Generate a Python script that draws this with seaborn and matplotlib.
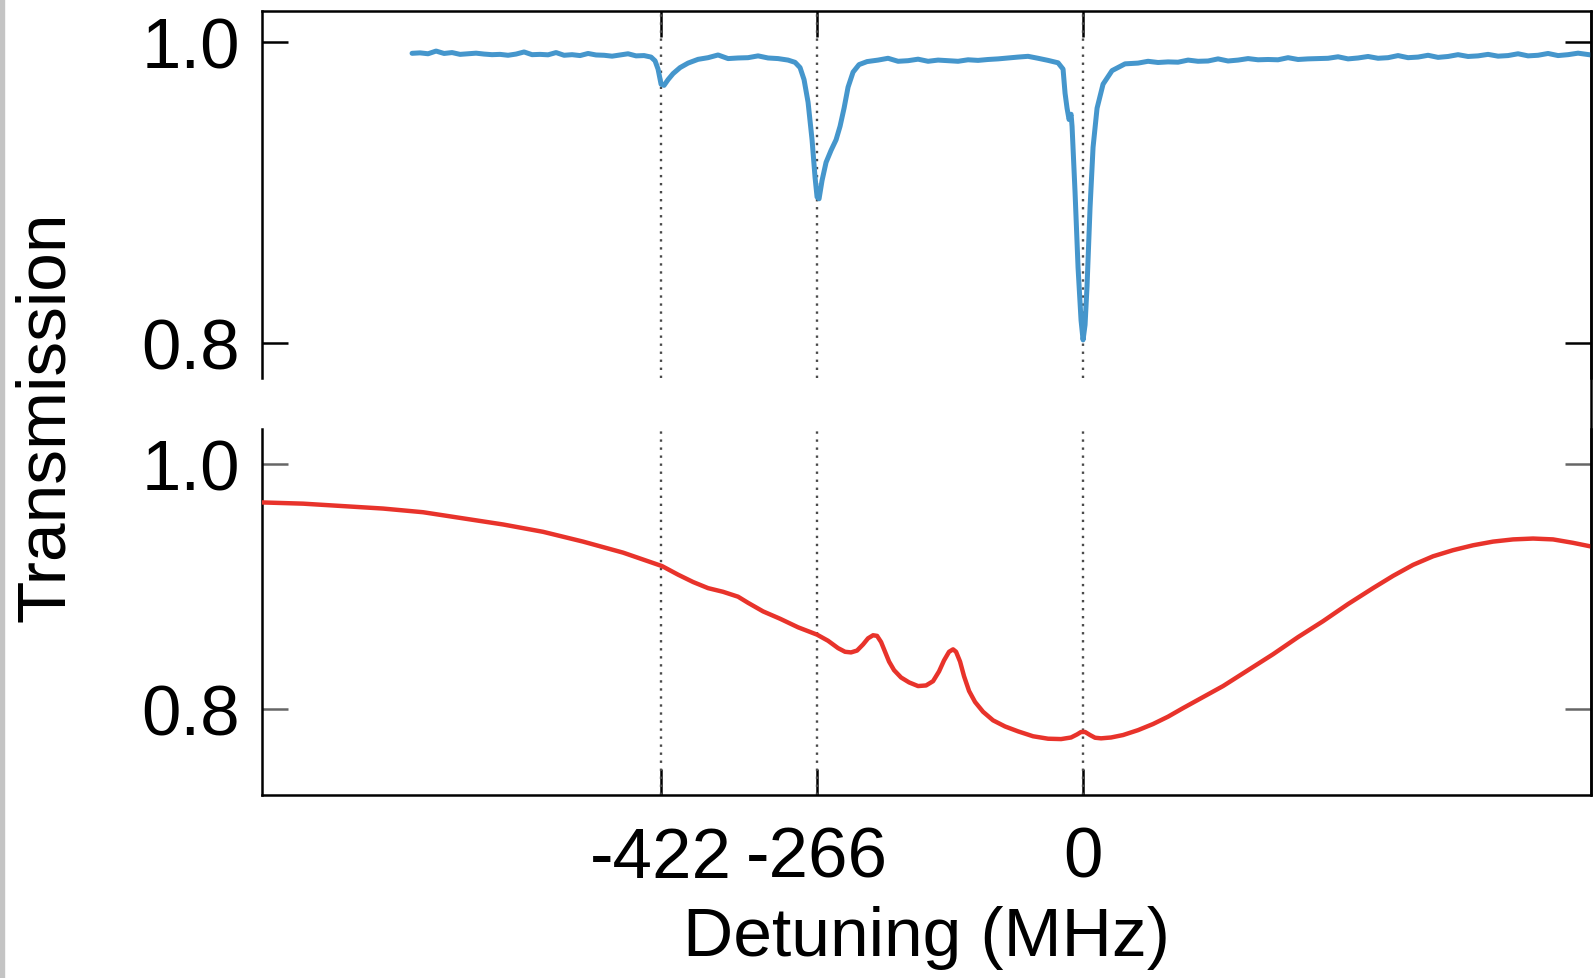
import matplotlib
matplotlib.use("Agg")
import matplotlib.pyplot as plt
from matplotlib.lines import Line2D
from matplotlib.patches import Rectangle
import seaborn as sns

# top panel: measured probe transmission (blue)
probe_detuning = [
    -671, -663, -655, -647, -639, -631, -623, -615, -607, -599, -591, -583,
    -575, -567, -559, -551, -543, -535, -527, -519, -511, -503, -495, -487,
    -479, -471, -463, -455, -447, -439, -432, -428, -425, -422, -419, -415,
    -410, -403, -395, -385, -375, -365, -355, -345, -335, -325, -315, -305,
    -295, -288, -283, -279, -275, -271, -268, -266, -264, -261, -257, -252,
    -247, -243, -239, -235, -230, -224, -216, -205, -195, -185, -175, -165,
    -155, -145, -135, -125, -115, -105, -95, -85, -75, -65, -55, -45, -35,
    -25, -20, -18, -16, -14, -12, -11, -8, -5, -2, 0, 2, 4, 7, 10, 14, 20,
    29, 42, 55, 65, 75, 85, 95, 105, 115, 125, 135, 145, 155, 165, 175, 185,
    195, 205, 215, 225, 235, 245, 255, 265, 275, 285, 295, 305, 315, 325,
    335, 345, 355, 365, 375, 385, 395, 405, 415, 425, 435, 445, 455, 465,
    475, 485, 495, 508,
]
probe_transmission = [
    0.9925, 0.9928, 0.9922, 0.9940, 0.9924, 0.9930, 0.9918, 0.9922, 0.9926,
    0.9920, 0.9916, 0.9918, 0.9912, 0.9920, 0.9934, 0.9916, 0.9918, 0.9915,
    0.9930, 0.9912, 0.9916, 0.9910, 0.9924, 0.9914, 0.9912, 0.9906, 0.9914,
    0.9922, 0.9908, 0.9910, 0.9900, 0.9875, 0.9820, 0.9720, 0.9712, 0.9750,
    0.9790, 0.9830, 0.9860, 0.9885, 0.9896, 0.9914, 0.9890, 0.9894, 0.9896,
    0.9908, 0.9894, 0.9890, 0.9880, 0.9865, 0.9830, 0.9750, 0.9600, 0.9350,
    0.9100, 0.8970, 0.8958, 0.9080, 0.9200, 0.9280, 0.9350, 0.9440, 0.9560,
    0.9700, 0.9800, 0.9850, 0.9870, 0.9880, 0.9892, 0.9872, 0.9876, 0.9886,
    0.9872, 0.9880, 0.9876, 0.9872, 0.9882, 0.9878, 0.9884, 0.9888, 0.9894,
    0.9900, 0.9905, 0.9892, 0.9878, 0.9862, 0.9820, 0.9660, 0.9560, 0.9485,
    0.9520, 0.9440, 0.9000, 0.8500, 0.8150, 0.8020, 0.8120, 0.8380, 0.8900,
    0.9300, 0.9560, 0.9720, 0.9810, 0.9855, 0.9860, 0.9872, 0.9864, 0.9868,
    0.9866, 0.9880, 0.9872, 0.9874, 0.9888, 0.9874, 0.9880, 0.9890, 0.9882,
    0.9884, 0.9882, 0.9896, 0.9884, 0.9888, 0.9890, 0.9892, 0.9902, 0.9888,
    0.9894, 0.9904, 0.9892, 0.9896, 0.9910, 0.9896, 0.9900, 0.9912, 0.9898,
    0.9904, 0.9916, 0.9904, 0.9908, 0.9918, 0.9906, 0.9910, 0.9922, 0.9908,
    0.9912, 0.9924, 0.9910, 0.9916, 0.9926, 0.9914,
]

# bottom panel: calculated transmission (red)
model_detuning = [
    -821, -780, -740, -700, -660, -620, -580, -540, -500, -460, -421, -405,
    -390, -375, -360, -345, -335, -320, -303, -285, -266, -255, -245, -238,
    -232, -226, -220, -215, -210, -206, -202, -198, -194, -189, -182, -174,
    -165, -157, -150, -144, -139, -134, -130, -127, -123, -119, -114, -108,
    -100, -90, -78, -65, -50, -35, -22, -12, -6, -2, 2, 7, 12, 18, 28, 40,
    55, 70, 85, 100, 120, 140, 165, 190, 215, 240, 265, 290, 310, 330, 350,
    370, 390, 410, 430, 450, 470, 490, 508,
]
model_transmission = [
    0.969, 0.968, 0.966, 0.964, 0.961, 0.956, 0.951, 0.945, 0.937, 0.928,
    0.917, 0.910, 0.904, 0.899, 0.896, 0.892, 0.887, 0.880, 0.874, 0.867,
    0.861, 0.856, 0.850, 0.847, 0.8465, 0.848, 0.853, 0.858, 0.8605, 0.860,
    0.855, 0.847, 0.839, 0.832, 0.826, 0.822, 0.819, 0.8195, 0.823, 0.831,
    0.840, 0.847, 0.849, 0.847, 0.839, 0.827, 0.815, 0.806, 0.798, 0.791,
    0.786, 0.782, 0.778, 0.776, 0.7757, 0.777, 0.7795, 0.7815, 0.7815, 0.779,
    0.7768, 0.7763, 0.777, 0.779, 0.783, 0.788, 0.794, 0.801, 0.810, 0.819,
    0.832, 0.845, 0.859, 0.872, 0.886, 0.899, 0.909, 0.918, 0.925, 0.930,
    0.934, 0.937, 0.9388, 0.9395, 0.9388, 0.936, 0.933,
]

marker_lines = [-422, -266, 0]
x_tick_labels = ["-422", "-266", "0"]
y_ticks = [0.8, 1.0]
y_tick_labels = ["0.8", "1.0"]

sns.set_theme(style="ticks")
plt.rcParams["font.family"] = ["Liberation Sans", "DejaVu Sans"]
plt.rcParams["text.color"] = "black"
plt.rcParams["axes.labelcolor"] = "black"

fig = plt.figure(figsize=(15.96, 9.79), dpi=100)
left, width = 0.1642, 0.8327
ax_top = fig.add_axes([left, 0.6129, width, 0.3748])
ax_bot = fig.add_axes([left, 0.1869, width, 0.3739])

for ax in (ax_top, ax_bot):
    for xv in marker_lines:
        ax.axvline(xv, color="#4a4a4a", linestyle=(0, (1, 2.4)), linewidth=1.7, zorder=1)
    ax.set_xlim(-821, 508)
    ax.set_xticks(marker_lines)
    ax.set_yticks(y_ticks)
    ax.set_yticklabels(y_tick_labels)
    for side in ("left", "right", "top", "bottom"):
        ax.spines[side].set_linewidth(1.8)
        ax.spines[side].set_color("black")

sns.lineplot(x=probe_detuning, y=probe_transmission, ax=ax_top,
             color="#4596cc", linewidth=3.6, zorder=3)
sns.lineplot(x=model_detuning, y=model_transmission, ax=ax_bot,
             color="#e8332b", linewidth=3.2, zorder=3)
ax_top.set_xlabel("")
ax_top.set_ylabel("")
ax_bot.set_ylabel("")

ax_top.set_ylim(0.7767, 1.0206)
ax_bot.set_ylim(0.730, 1.029)

ax_top.spines["bottom"].set_visible(False)
ax_bot.spines["top"].set_visible(False)

ax_top.tick_params(axis="x", top=True, bottom=False, labelbottom=False,
                   labeltop=False, direction="in", length=19, width=1.8, color="black")
ax_top.tick_params(axis="y", left=True, right=True, direction="in", length=19,
                   width=1.8, color="black", labelcolor="black", labelsize=51, pad=16)
ax_bot.tick_params(axis="x", top=False, bottom=True, direction="in", length=19,
                   width=1.8, color="black", labelcolor="black", labelsize=51, pad=22)
ax_bot.tick_params(axis="y", left=True, right=True, direction="in", length=19,
                   width=1.8, color="#666666", labelcolor="black", labelsize=51, pad=16)
ax_bot.set_xticklabels(x_tick_labels)

ax_bot.set_xlabel("Detuning (MHz)", fontsize=50, labelpad=10)
fig.text(0.029, 0.574, "Transmission", rotation=90, fontsize=50,
         ha="center", va="center")

# right frame runs unbroken through the gap between panels
fig.add_artist(Line2D([left + width, left + width], [0.1869, 0.9877],
                      color="black", linewidth=1.8, transform=fig.transFigure))
# thin grey edge at the left of the picture
fig.add_artist(Rectangle((0, 0), 4 / 1596, 1, transform=fig.transFigure,
                         color="#c4c4c4", zorder=0))

fig.savefig("out.png", dpi=100)
plt.close(fig)
